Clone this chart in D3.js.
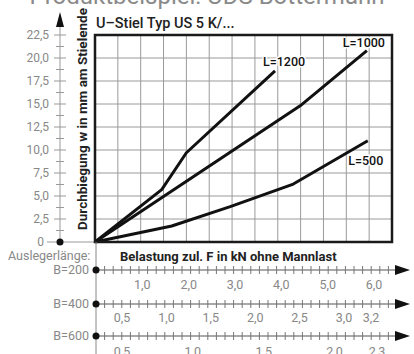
<!DOCTYPE html>
<html>
<head>
<meta charset="utf-8">
<script src="https://cdn.jsdelivr.net/npm/d3@7"></script>
<style>
  body { margin: 0; background: #fff; }
  text { font-family: Roboto, "DejaVu Sans", sans-serif; }
</style>
</head>
<body>
<div id="chart"></div>
<script>
// deflection curves, x in plot units (0.5 per grid column), y in mm
const curveNames = ["L=1200", "L=1000", "L=500"];
const l1200X = [0, 1.46, 2.0, 3.94];
const l1200Y = [0, 5.7, 9.7, 18.6];
const l1000X = [0, 4.49, 5.95];
const l1000Y = [0, 14.8, 20.8];
const l500X = [0, 1.68, 2.96, 4.34, 5.97];
const l500Y = [0, 1.74, 3.84, 6.3, 11.0];

const yTicks = [0, 2.5, 5, 7.5, 10, 12.5, 15, 17.5, 20, 22.5];

// load axes under the chart
const boomNames = ["B=200", "B=400", "B=600"];
const b200Ticks = [1, 2, 3, 4, 5, 6];
const b400Ticks = [0.5, 1, 1.5, 2, 2.5, 3, 3.2];
const b600Ticks = [0.5, 1, 1.5, 2, 2.3];

const W = 414, H = 354;
const svg = d3.select("#chart").append("svg")
  .attr("width", W).attr("height", H);

const x = d3.scaleLinear().domain([0, 6.5]).range([95, 392]);
const y = d3.scaleLinear().domain([0, 22.5]).range([242, 35]);
const comma = v => v === 0 ? "0" : d3.format(".1f")(v).replace(".", ",");

// title, cut off at the top
svg.append("text")
  .attr("x", 207).attr("y", 4)
  .attr("text-anchor", "middle")
  .style("font-size", "24px").style("fill", "#8a8a8a")
  .text("Produktbeispiel: UDS Bottermann");

svg.append("text")
  .attr("x", 96).attr("y", 28)
  .style("font-size", "14.5px").style("fill", "#222").style("font-weight", 500)
  .text("U–Stiel Typ US 5 K/...");

// grid
const g = svg.append("g");
g.selectAll(".vg").data(d3.range(0.5, 6.5, 0.5)).enter().append("line")
  .attr("x1", d => x(d)).attr("x2", d => x(d))
  .attr("y1", y(22.5)).attr("y2", y(0))
  .style("stroke", "#9a9a9a").style("stroke-width", 1);
g.selectAll(".hg").data(yTicks.slice(1, -1)).enter().append("line")
  .attr("x1", x(0)).attr("x2", x(6.5))
  .attr("y1", d => y(d)).attr("y2", d => y(d))
  .style("stroke", "#9a9a9a").style("stroke-width", 1);

// left value axis
const ax = 60;
svg.append("line").attr("x1", 47).attr("x2", x(0)).attr("y1", y(0)).attr("y2", y(0))
  .style("stroke", "#999").style("stroke-width", 1);
svg.append("line").attr("x1", ax).attr("x2", ax).attr("y1", y(0)).attr("y2", 24)
  .style("stroke", "#999").style("stroke-width", 1);
svg.append("path").attr("d", `M${ax - 4},27 L${ax + 4},27 L${ax},12 Z`).style("fill", "#111");
svg.selectAll(".ymaj").data(yTicks.slice(1)).enter().append("line")
  .attr("x1", ax - 6).attr("x2", ax + 6)
  .attr("y1", d => y(d)).attr("y2", d => y(d))
  .style("stroke", "#999").style("stroke-width", 1);
svg.selectAll(".ymin").data(yTicks.slice(0, -1)).enter().append("line")
  .attr("x1", ax - 4).attr("x2", ax + 4)
  .attr("y1", d => y(d + 1.25)).attr("y2", d => y(d + 1.25))
  .style("stroke", "#999").style("stroke-width", 1);
svg.selectAll(".ylab").data(yTicks).enter().append("text")
  .attr("x", d => d === 0 ? 44 : 49).attr("y", d => y(d))
  .attr("dy", "0.35em").attr("text-anchor", "end")
  .style("font-size", "12px").style("fill", "#888")
  .text(comma);
svg.append("circle").attr("cx", ax).attr("cy", y(0)).attr("r", 3.5).style("fill", "#111");

svg.append("text")
  .attr("transform", "translate(82,119) rotate(-90)")
  .attr("text-anchor", "middle").attr("dy", "0.35em")
  .style("font-size", "13.5px").style("font-weight", "bold").style("fill", "#222")
  .text("Durchbiegung w in mm am Stielende");

// curves
const line = d3.line().x(d => x(d[0])).y(d => y(d[1]));
const curves = [d3.zip(l1200X, l1200Y), d3.zip(l1000X, l1000Y), d3.zip(l500X, l500Y)];
svg.selectAll(".curve").data(curves).enter().append("path")
  .attr("d", line)
  .style("fill", "none").style("stroke", "#111").style("stroke-width", 3)
  .style("stroke-linejoin", "round");

const labelOffsets = [[9, -9], [-3, -8], [-2, 20]];
svg.selectAll(".clab").data(curves).enter().append("text")
  .attr("x", (d, i) => x(d[d.length - 1][0]) + labelOffsets[i][0])
  .attr("y", (d, i) => y(d[d.length - 1][1]) + labelOffsets[i][1])
  .attr("text-anchor", "middle").attr("dy", "0.35em")
  .style("font-size", "12.5px").style("font-weight", 500).style("fill", "#111")
  .style("stroke", "#fff").style("stroke-width", 3).style("paint-order", "stroke")
  .text((d, i) => curveNames[i]);

// frame
svg.append("rect")
  .attr("x", x(0)).attr("y", y(22.5))
  .attr("width", x(6.5) - x(0)).attr("height", y(0) - y(22.5))
  .style("fill", "none").style("stroke", "#1a1a1a").style("stroke-width", 2.5);

// load axes
svg.append("line").attr("x1", 96).attr("x2", 96).attr("y1", y(0)).attr("y2", H)
  .style("stroke", "#888").style("stroke-width", 1);

svg.append("text").attr("x", 8).attr("y", 256).attr("dy", "0.35em")
  .style("font-size", "12.5px").style("fill", "#888").text("Auslegerlänge:");
svg.append("text").attr("x", 120).attr("y", 256).attr("dy", "0.35em")
  .style("font-size", "13px").style("font-weight", "bold").style("fill", "#222")
  .text("Belastung zul. F in kN ohne Mannlast");

const rows = [
  { name: boomNames[0], ticks: b200Ticks, y: 270, ly: 285, s: d3.scaleLinear().domain([0, 6]).range([96, 374]) },
  { name: boomNames[1], ticks: b400Ticks, y: 304, ly: 318, s: d3.scaleLinear().domain([0.5, 3, 3.2]).range([122, 344, 371]) },
  { name: boomNames[2], ticks: b600Ticks, y: 336, ly: 352, s: d3.scaleLinear().domain([0.5, 2.3]).range([122, 377]) }
];
const ruler = d3.scaleLinear().domain([0, 35]).range([96, 397]);

rows.forEach(r => {
  const row = svg.append("g");
  row.append("line").attr("x1", 96).attr("x2", 398).attr("y1", r.y).attr("y2", r.y)
    .style("stroke", "#555").style("stroke-width", 1.2);
  row.selectAll(".rt").data(d3.range(1, 36)).enter().append("line")
    .attr("x1", d => ruler(d)).attr("x2", d => ruler(d))
    .attr("y1", r.y - 4).attr("y2", r.y + 4)
    .style("stroke", "#777").style("stroke-width", 1);
  row.append("path").attr("d", `M395,${r.y - 5} L410,${r.y} L395,${r.y + 5} Z`).style("fill", "#111");
  row.append("circle").attr("cx", 96).attr("cy", r.y).attr("r", 3.5).style("fill", "#111");
  row.append("text").attr("x", 89).attr("y", r.y).attr("dy", "0.35em")
    .attr("text-anchor", "end").style("font-size", "12.5px").style("fill", "#888")
    .text(r.name);
  row.selectAll(".rl").data(r.ticks).enter().append("text")
    .attr("x", d => r.s(d)).attr("y", r.ly).attr("dy", "0.35em")
    .attr("text-anchor", "middle").style("font-size", "12.5px").style("fill", "#888")
    .text(comma);
});
</script>
</body>
</html>
